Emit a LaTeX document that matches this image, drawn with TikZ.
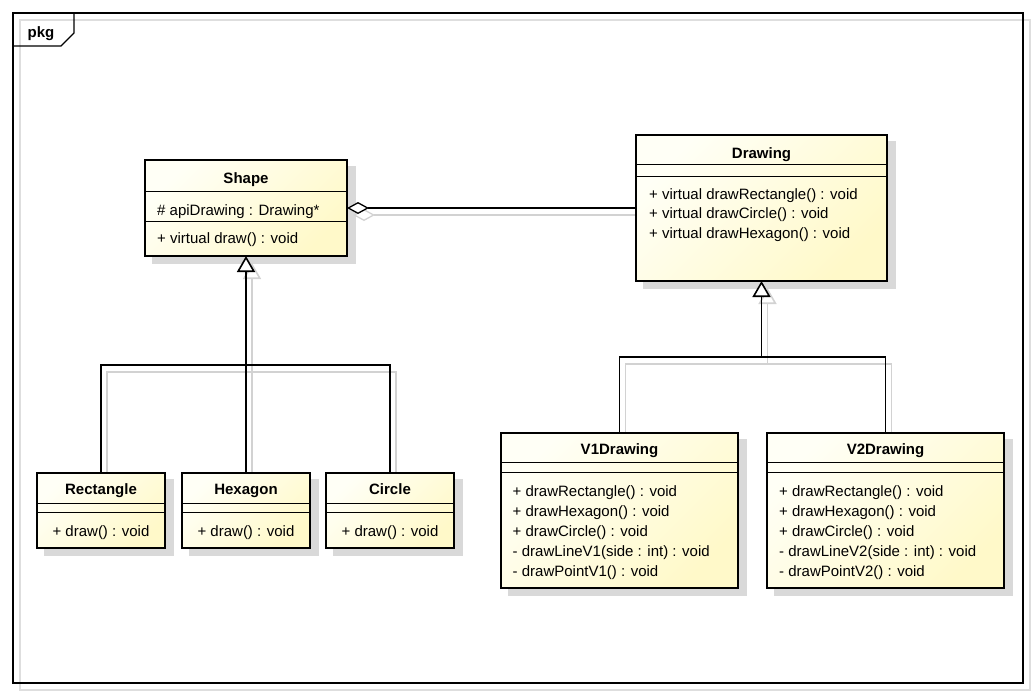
\documentclass[tikz,border=0pt]{standalone}
\usepackage{fontspec}
\setmainfont{Liberation Sans}
\usetikzlibrary{arrows.meta,backgrounds,calc}

\definecolor{classlight}{HTML}{FFFFF6}
\definecolor{classdark}{HTML}{FFF9C9}
\definecolor{boxshadow}{HTML}{D9D9D9}
\definecolor{ghostline}{HTML}{D2D2D2}
\definecolor{frameghost}{HTML}{DEDEDE}
\colorlet{linkpen}{black}

\tikzset{
  umlclass/.style={draw=black, line width=2.8pt, top color=classlight,
    bottom color=classdark, shading angle=45, inner sep=0pt, outer sep=0pt,
    anchor=north west},
  compartment/.style={line width=1pt},
  classname/.style={font=\fontsize{15}{18}\selectfont\bfseries, anchor=base, inner sep=0pt},
  feature/.style={font=\fontsize{15}{18}\selectfont, anchor=base west, inner sep=0pt},
  centredfeature/.style={font=\fontsize{15}{18}\selectfont, anchor=base, inner sep=0pt},
  link/.style={draw=linkpen, line width=1.6pt, line join=miter},
  generalization/.style={link, -{Triangle[fill=white, length=16pt, width=18pt]}},
  aggregation/.style={draw=linkpen, line width=1.3pt,
    {Diamond[fill=white, length=22pt, width=12pt]}-},
}

% grey drop shadow of a class box (stroke included)
\newcommand\classshadow[1]{%
  \fill[boxshadow] ($(#1.north west)+(6.6,5.6)$) rectangle ($(#1.south east)+(9.4,8.4)$);}
% the two compartment separators of a class box, given as offsets from its top
\newcommand\compartments[3]{%
  \draw[compartment] ($(#1.north west)+(0,#2)$) -- ($(#1.north east)+(0,#2)$);
  \draw[compartment] ($(#1.north west)+(0,#3)$) -- ($(#1.north east)+(0,#3)$);}
% all relationships between the classes
\newcommand\umllinks{%
  \draw[aggregation] (shape.east) -- (drawing.west);
  \draw[generalization] (hex.north) -- (shape.south);
  \draw[link] (rect.north) |- (shapebus);
  \draw[link] (circ.north) |- (shapebus);
  \draw[link] (v1.north) |- (drawingbus);
  \draw[link] (v2.north) |- (drawingbus);
  \draw[generalization] (drawingbus) -- (drawing.south);}

\begin{document}
\begin{tikzpicture}[x=1pt,y=-1pt]
\useasboundingbox (0,0) rectangle (1036,697);

% class boxes
\node[umlclass, minimum width=202, minimum height=96]  (shape)   at (145,160) {};
\node[umlclass, minimum width=251, minimum height=146] (drawing) at (636,135) {};
\node[umlclass, minimum width=128, minimum height=75]  (rect)    at (37,473)  {};
\node[umlclass, minimum width=128, minimum height=75]  (hex)     at (182,473) {};
\node[umlclass, minimum width=128, minimum height=75]  (circ)    at (326,473) {};
\node[umlclass, minimum width=237, minimum height=155] (v1)      at (501,433) {};
\node[umlclass, minimum width=237, minimum height=155] (v2)      at (767,433) {};

\compartments{shape}{31}{61}
\compartments{drawing}{29}{41}
\compartments{rect}{30}{39}
\compartments{hex}{30}{39}
\compartments{circ}{30}{39}
\compartments{v1}{29}{39}
\compartments{v2}{29}{39}

% junctions of the generalization trees
\coordinate (shapebus)   at (246,365);
\coordinate (drawingbus) at (761.5,357);

% Shape
\node[classname] (shapeT) at (246,183) {Shape};
\node[feature] (shapeA) at (157,215) {\# apiDrawing : Drawing*};
\node[feature] (shapeM) at (157,243) {+ virtual draw() : void};

% Drawing
\node[classname] (drawingT) at (761.5,158) {Drawing};
\node[feature] (drawingM1) at (649,199)   {+ virtual drawRectangle() : void};
\node[feature] (drawingM2) at (649,218.5) {+ virtual drawCircle() : void};
\node[feature] (drawingM3) at (649,238)   {+ virtual drawHexagon() : void};

% concrete shapes
\node[classname] (rectT) at (101,494.5) {Rectangle};
\node[centredfeature] (rectM) at (101,536) {+ draw() : void};
\node[classname] (hexT) at (246,494.5) {Hexagon};
\node[centredfeature] (hexM) at (246,536) {+ draw() : void};
\node[classname] (circT) at (390,494.5) {Circle};
\node[centredfeature] (circM) at (390,536) {+ draw() : void};

% implementations
\node[classname] (v1T) at (619.5,454.5) {V1Drawing};
\node[feature] (v1M1) at (512.5,496)   {+ drawRectangle() : void};
\node[feature] (v1M2) at (512.5,516.2) {+ drawHexagon() : void};
\node[feature] (v1M3) at (512.5,536.4) {+ drawCircle() : void};
\node[feature] (v1M4) at (512.5,556.6) {- drawLineV1(side : int) : void};
\node[feature] (v1M5) at (512.5,576.8) {- drawPointV1() : void};

\node[classname] (v2T) at (885.5,454.5) {V2Drawing};
\node[feature] (v2M1) at (779,496)   {+ drawRectangle() : void};
\node[feature] (v2M2) at (779,516.2) {+ drawHexagon() : void};
\node[feature] (v2M3) at (779,536.4) {+ drawCircle() : void};
\node[feature] (v2M4) at (779,556.6) {- drawLineV2(side : int) : void};
\node[feature] (v2M5) at (779,576.8) {- drawPointV2() : void};

% package frame
\node[font=\fontsize{15}{18}\selectfont\bfseries, anchor=base west, inner sep=0pt]
  (pkglabel) at (27.5,37) {pkg};

\begin{scope}[on background layer]
  \draw[frameghost, line width=1.5pt] (20,20) rectangle (1030,690);
  \draw[line width=1.3pt] (13,13) rectangle (1023,683);
  \draw[line width=1.3pt] (13,46) -- (61,46) -- (74,33) -- (74,13);

  \classshadow{shape}
  \classshadow{drawing}
  \classshadow{rect}
  \classshadow{hex}
  \classshadow{circ}
  \classshadow{v1}
  \classshadow{v2}

  \colorlet{linkpen}{ghostline}
  \begin{scope}[transform canvas={shift={(6pt,-7pt)}}]
    \umllinks
  \end{scope}
  \colorlet{linkpen}{black}
  \umllinks
\end{scope}
\end{tikzpicture}
\end{document}
